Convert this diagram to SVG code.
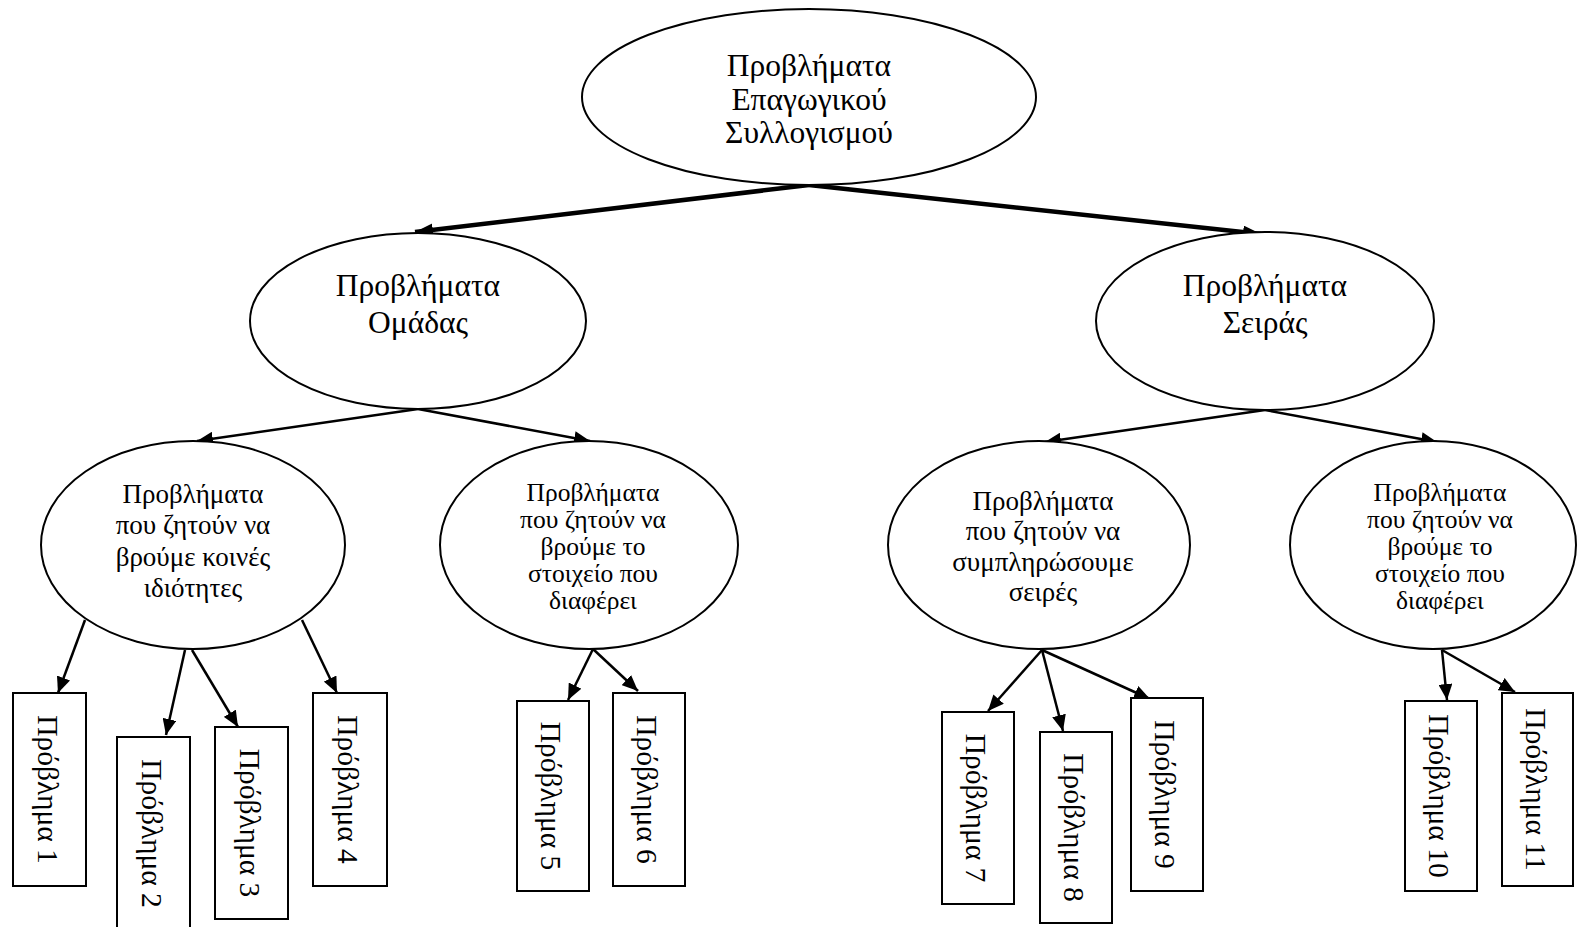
<svg xmlns="http://www.w3.org/2000/svg" width="1578" height="927" viewBox="0 0 1578 927">
  <style>
    .node { fill: #ffffff; stroke: #000000; stroke-width: 2; }
    .lbl { font-family: "Liberation Serif", "Times New Roman", serif; fill: #000000; text-anchor: middle; }
    .big { font-size: 31.5px; }
    .mid { font-size: 27px; }
    .tight { font-size: 25.5px; }
    .box { font-size: 29.5px; }
    .edge { stroke: #000000; fill: none; }
    .thick { stroke-width: 4.5; marker-end: url(#headL); }
    .thin { stroke-width: 2.5; marker-end: url(#head); }
  </style>
  <defs>
    <marker id="head" markerUnits="userSpaceOnUse" markerWidth="18" markerHeight="14" refX="16" refY="7" orient="auto">
      <path d="M0,0 L16,7 L0,14 z" fill="#000000"/>
    </marker>
    <marker id="headL" markerUnits="userSpaceOnUse" markerWidth="20" markerHeight="14" refX="18" refY="6.5" orient="auto">
      <path d="M0,0 L18,6.5 L0,13 z" fill="#000000"/>
    </marker>
  </defs>
  <rect width="1578" height="927" fill="#ffffff"/>

  <!-- connectors -->
  <g id="connectors" class="edge">
    <line class="thick" x1="809" y1="185" x2="415" y2="232"/>
    <line class="thick" x1="809" y1="185" x2="1261" y2="234"/>
    <line class="thin" x1="418" y1="409" x2="197" y2="441"/>
    <line class="thin" x1="418" y1="409" x2="590" y2="441"/>
    <line class="thin" x1="1265" y1="410" x2="1045" y2="442"/>
    <line class="thin" x1="1265" y1="410" x2="1437" y2="442"/>
    <line class="thin" x1="85" y1="620" x2="58" y2="693"/>
    <line class="thin" x1="185" y1="650" x2="166" y2="735"/>
    <line class="thin" x1="192" y1="650" x2="238" y2="727"/>
    <line class="thin" x1="302" y1="620" x2="337" y2="693"/>
    <line class="thin" x1="593" y1="649" x2="568" y2="700"/>
    <line class="thin" x1="593" y1="649" x2="638" y2="691"/>
    <line class="thin" x1="1042" y1="650" x2="988" y2="711"/>
    <line class="thin" x1="1042" y1="650" x2="1063" y2="731"/>
    <line class="thin" x1="1042" y1="650" x2="1150" y2="699"/>
    <line class="thin" x1="1442" y1="650" x2="1447" y2="700"/>
    <line class="thin" x1="1442" y1="650" x2="1515" y2="692"/>
  </g>

  <!-- root -->
  <g id="root">
    <ellipse class="node" cx="809" cy="97" rx="227" ry="88"/>
    <text class="lbl big" x="809" y="76">Προβλήματα</text>
    <text class="lbl big" x="809" y="110">Επαγωγικού</text>
    <text class="lbl big" x="809" y="143">Συλλογισμού</text>
  </g>

  <!-- first level -->
  <g id="group-problems">
    <ellipse class="node" cx="418" cy="321" rx="168" ry="88"/>
    <text class="lbl big" x="418" y="296">Προβλήματα</text>
    <text class="lbl big" x="418" y="333">Ομάδας</text>
  </g>
  <g id="series-problems">
    <ellipse class="node" cx="1265" cy="321" rx="169" ry="89"/>
    <text class="lbl big" x="1265" y="296">Προβλήματα</text>
    <text class="lbl big" x="1265" y="333">Σειράς</text>
  </g>

  <!-- second level -->
  <g id="common-properties">
    <ellipse class="node" cx="193" cy="545" rx="152" ry="104"/>
    <text class="lbl mid" x="193" y="503">Προβλήματα</text>
    <text class="lbl mid" x="193" y="534">που ζητούν να</text>
    <text class="lbl mid" x="193" y="566">βρούμε κοινές</text>
    <text class="lbl mid" x="193" y="597">ιδιότητες</text>
  </g>
  <g id="odd-one-out-a">
    <ellipse class="node" cx="589" cy="545" rx="149" ry="104"/>
    <text class="lbl tight" x="593" y="501">Προβλήματα</text>
    <text class="lbl tight" x="593" y="528">που ζητούν να</text>
    <text class="lbl tight" x="593" y="555">βρούμε το</text>
    <text class="lbl tight" x="593" y="582">στοιχείο που</text>
    <text class="lbl tight" x="593" y="609">διαφέρει</text>
  </g>
  <g id="complete-series">
    <ellipse class="node" cx="1039" cy="545" rx="151" ry="104"/>
    <text class="lbl mid" x="1043" y="510">Προβλήματα</text>
    <text class="lbl mid" x="1043" y="540">που ζητούν να</text>
    <text class="lbl mid" x="1043" y="571">συμπληρώσουμε</text>
    <text class="lbl mid" x="1043" y="601">σειρές</text>
  </g>
  <g id="odd-one-out-b">
    <ellipse class="node" cx="1433" cy="545" rx="143" ry="104"/>
    <text class="lbl tight" x="1440" y="501">Προβλήματα</text>
    <text class="lbl tight" x="1440" y="528">που ζητούν να</text>
    <text class="lbl tight" x="1440" y="555">βρούμε το</text>
    <text class="lbl tight" x="1440" y="582">στοιχείο που</text>
    <text class="lbl tight" x="1440" y="609">διαφέρει</text>
  </g>

  <!-- leaf problems -->
  <g id="p1"><rect class="node" x="13" y="693" width="73" height="193"/><text class="lbl box" transform="translate(49.5,789.5) rotate(90)" y="12">Πρόβλημα 1</text></g>
  <g id="p2"><rect class="node" x="117" y="737" width="73" height="193"/><text class="lbl box" transform="translate(153.5,833.5) rotate(90)" y="12">Πρόβλημα 2</text></g>
  <g id="p3"><rect class="node" x="215" y="727" width="73" height="192"/><text class="lbl box" transform="translate(251.5,823) rotate(90)" y="12">Πρόβλημα 3</text></g>
  <g id="p4"><rect class="node" x="313" y="693" width="74" height="193"/><text class="lbl box" transform="translate(350,789.5) rotate(90)" y="12">Πρόβλημα 4</text></g>
  <g id="p5"><rect class="node" x="517" y="701" width="72" height="190"/><text class="lbl box" transform="translate(553,796) rotate(90)" y="12">Πρόβλημα 5</text></g>
  <g id="p6"><rect class="node" x="613" y="693" width="72" height="193"/><text class="lbl box" transform="translate(649,789.5) rotate(90)" y="12">Πρόβλημα 6</text></g>
  <g id="p7"><rect class="node" x="942" y="712" width="72" height="192"/><text class="lbl box" transform="translate(978,808) rotate(90)" y="12">Πρόβλημα 7</text></g>
  <g id="p8"><rect class="node" x="1040" y="732" width="72" height="191"/><text class="lbl box" transform="translate(1076,827.5) rotate(90)" y="12">Πρόβλημα 8</text></g>
  <g id="p9"><rect class="node" x="1131" y="698" width="72" height="193"/><text class="lbl box" transform="translate(1167,794.5) rotate(90)" y="12">Πρόβλημα 9</text></g>
  <g id="p10"><rect class="node" x="1405" y="701" width="72" height="190"/><text class="lbl box" transform="translate(1441,796) rotate(90)" y="12">Πρόβλημα 10</text></g>
  <g id="p11"><rect class="node" x="1502" y="693" width="71" height="193"/><text class="lbl box" transform="translate(1537.5,789.5) rotate(90)" y="12">Πρόβλημα 11</text></g>
</svg>
